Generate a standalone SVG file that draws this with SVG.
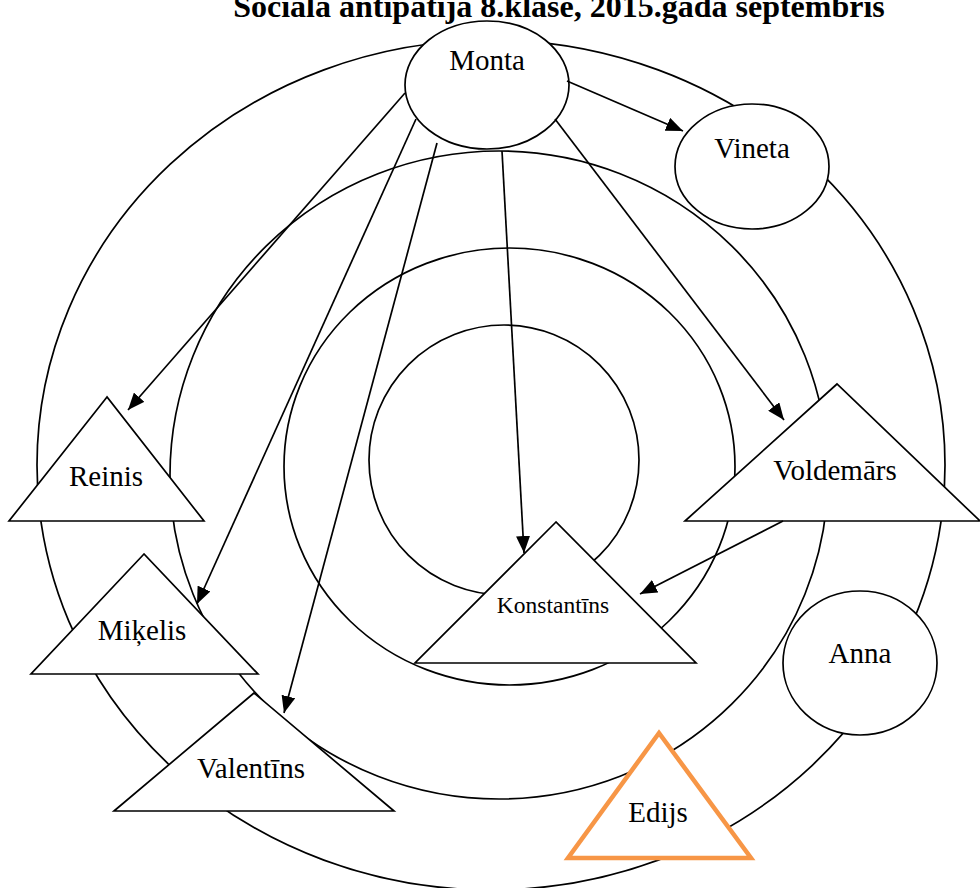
<svg xmlns="http://www.w3.org/2000/svg" width="980" height="888" viewBox="0 0 980 888">
<style>
.ring{fill:none;stroke:#000;stroke-width:1.7}
.node{fill:#fff;stroke:#000;stroke-width:1.7}
.edijs{fill:#fff;stroke:#F79646;stroke-width:4.5}
.lbl{font-family:"Liberation Serif","Times New Roman",serif;font-size:29px;fill:#000;text-anchor:middle}
.sm{font-size:23.5px}
.title{font-family:"Liberation Serif","Times New Roman",serif;font-size:32px;font-weight:bold;fill:#000;text-anchor:middle}
.con{stroke:#000;stroke-width:1.7;fill:none;marker-end:url(#arr)}
</style>
<defs>
<marker id="arr" markerWidth="17" markerHeight="14" refX="17" refY="7" orient="auto" markerUnits="userSpaceOnUse">
<path d="M0,0 L17,7 L0,14 z" fill="#000"/>
</marker>
</defs>
<rect width="980" height="888" fill="#fff"/>
<text class="title" x="559" y="17">Sociālā antipātija 8.klasē, 2015.gada septembris</text>
<g id="rings">
<ellipse class="ring" cx="491" cy="465" rx="454" ry="425"/>
<ellipse class="ring" cx="499" cy="475" rx="329" ry="324"/>
<ellipse class="ring" cx="509.5" cy="466.5" rx="225.5" ry="218.5"/>
<circle class="ring" cx="504" cy="460" r="135"/>
</g>
<g id="monta"><ellipse class="node" cx="487" cy="85" rx="82" ry="64"/><text class="lbl" x="487" y="70">Monta</text></g>
<g id="vineta"><ellipse class="node" cx="752" cy="166.5" rx="77" ry="62.5"/><text class="lbl" x="752" y="158">Vineta</text></g>
<g id="anna"><ellipse class="node" cx="860" cy="663" rx="77" ry="72"/><text class="lbl" x="860" y="663">Anna</text></g>
<g id="reinis"><polygon class="node" points="107,397 9,521 204,521"/><text class="lbl" x="106" y="486">Reinis</text></g>
<g id="mikelis"><polygon class="node" points="144,554 31,674 258,674"/><text class="lbl" x="142" y="640">Miķelis</text></g>
<g id="valentins"><polygon class="node" points="254,693 114,811 394,811"/><text class="lbl" x="251" y="778">Valentīns</text></g>
<g id="konstantins"><polygon class="node" points="556,522 415,663 696,663"/><text class="lbl sm" x="553" y="613">Konstantīns</text></g>
<g id="voldemars"><polygon class="node" points="837,384 685,521 980,521"/><text class="lbl" x="835" y="480">Voldemārs</text></g>
<g id="edijs"><polygon class="edijs" points="659,733 568,858 751,858"/><text class="lbl" x="658" y="822">Edijs</text></g>
<g id="connectors">
<line class="con" x1="567" y1="81" x2="683" y2="131"/>
<line class="con" x1="405" y1="93" x2="128" y2="410"/>
<line class="con" x1="416" y1="119" x2="197" y2="604"/>
<line class="con" x1="437" y1="143" x2="284" y2="713"/>
<line class="con" x1="502" y1="151" x2="524" y2="553"/>
<line class="con" x1="555" y1="119" x2="784" y2="420"/>
<line class="con" x1="783" y1="521" x2="640" y2="594"/>
</g>
</svg>
